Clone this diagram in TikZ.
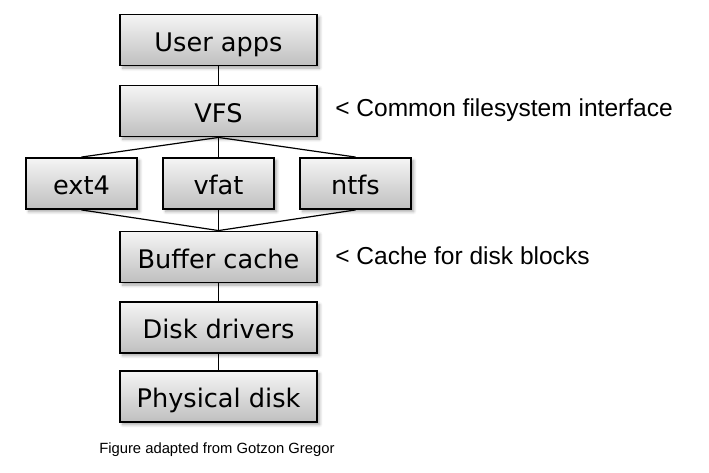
\documentclass[tikz,border=0pt]{standalone}
\usepackage{fontspec}
\setmainfont{DejaVu Sans}
\newfontfamily\notefont{Liberation Sans}
\usetikzlibrary{shadows.blur}
\begin{document}
\begin{tikzpicture}[
    x=0.75pt, y=-0.75pt,
    layer/.style={rectangle, draw, line width=1.4pt, minimum width=147.75pt, minimum height=38.25pt, inner sep=0pt,
        text height=17pt, text depth=0pt,
        top color=gray!8, bottom color=gray!50, font=\fontsize{19.2}{22}\selectfont,
        blur shadow={shadow xshift=2pt, shadow yshift=-2pt, shadow blur steps=6, shadow opacity=35}},
    fsbox/.style={layer, minimum width=83.25pt},
    link/.style={line width=0.9pt},
    note/.style={anchor=base west, inner sep=0pt, font=\notefont\fontsize{18.4}{21}\selectfont}
]
    \useasboundingbox (0,0) rectangle (709,473);

    % Schichten
    \node[layer] (apps) at (218.5,40) {User apps};
    \node[layer] (vfs) at (218.5,111) {VFS};
    \node[fsbox] (ext) at (81.5,183.5) {ext4};
    \node[fsbox] (vfat) at (218.5,183.5) {vfat};
    \node[fsbox] (ntfs) at (355.5,183.5) {ntfs};
    \node[layer] (buffer) at (218.5,257) {Buffer cache};
    \node[layer] (drivers) at (218.5,327.5) {Disk drivers};
    \node[layer] (disk) at (218.5,396.5) {Physical disk};

    % Verbindungen
    \draw[link] (apps) -- (vfs);
    \draw[link] (vfs.south) -- (ext.north);
    \draw[link] (vfs.south) -- (vfat.north);
    \draw[link] (vfs.south) -- (ntfs.north);
    \draw[link] (ext.south) -- (buffer.north);
    \draw[link] (vfat.south) -- (buffer.north);
    \draw[link] (ntfs.south) -- (buffer.north);
    \draw[link] (buffer) -- (drivers);
    \draw[link] (drivers) -- (disk);

    % Anmerkungen
    \node[note] (vfsnote) at (335,117) {< Common filesystem interface};
    \node[note] (cachenote) at (335,265) {< Cache for disk blocks};
    \node[anchor=base west, inner sep=0pt, font=\notefont\fontsize{11.1}{13}\selectfont] (credit) at (99,453) {Figure adapted from Gotzon Gregor};
\end{tikzpicture}
\end{document}
